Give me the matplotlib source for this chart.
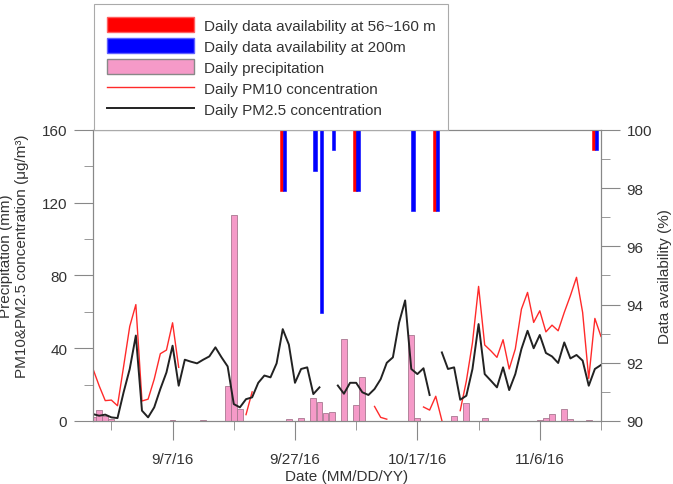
import numpy as np
import pandas as pd
import matplotlib
matplotlib.use("Agg")
import matplotlib.pyplot as plt
import matplotlib.dates as mdates
from matplotlib.ticker import FixedLocator, FuncFormatter, MultipleLocator
from matplotlib.patches import Patch
from matplotlib.lines import Line2D

plt.rcParams['font.family'] = ['Liberation Sans', 'DejaVu Sans']
plt.rcParams['font.size'] = 11

nan = np.nan

# daily series, 8/25/16 .. 11/16/16
dates = pd.date_range('2016-08-25', '2016-11-16', freq='D')

precip = [2, 6, 3, 1, 0, 0, 0, 0, 0, 0, 0, 0, 0, 0.5,
          0, 0, 0, 0, 0.8, 0, 0, 0, 19.5, 113, 6.6, 0, 0, 0,
          0, 0, 0, 0, 1, 0, 1.5, 0, 12.5, 10.5, 4.5, 5, 0, 45,
          0, 9, 24, 0, 0, 0, 0, 0, 0, 0, 47.5, 1.5, 0, 0,
          0, 0, 0, 2.5, 0, 10, 0, 0, 1.5, 0, 0, 0, 0, 0,
          0, 0, 0, 0.8, 1.5, 3.8, 0, 6.6, 1.1, 0, 0, 0.5, 0, 0]

pm10 = [28.6, 19.4, 11.2, 11.5, 8.4, 30, 52, 64, 11, 12, 23, 37, 39, 54,
        29.5, nan, nan, nan, nan, nan, nan, nan, nan, nan, nan, 3.5, 16, nan,
        nan, nan, nan, nan, nan, nan, nan, nan, nan, nan, nan, nan, nan, nan,
        nan, nan, nan, nan, 8, 2, 1, nan, nan, nan, nan, nan, 7.7, 6,
        13.6, 0.3, nan, nan, 5.7, 22, 43, 74, 41.8, 38.6, 35, 44.7, 28.6, 39.6,
        61.5, 70.7, 54.2, 60.6, 49, 52.7, 49.6, 59.7, 68.9, 79, 59.7, 23.4, 56.4, 46.5]

pm25 = [3.8, 2.9, 3.5, 2, 1.6, 15.8, 28.6, 47, 5.7, 2, 7.5, 17.6, 26.7, 41.4,
        19.4, 33.7, 32.6, 31.7, 33.7, 35.5, 40.5, 35, 30, 9.3, 7.5, 12, 13, 21,
        25, 24, 31.7, 50.5, 42, 21, 28.6, 29.5, 14.8, 18.5, nan, nan, 19.5, 15,
        21, 21, 15.8, 14.3, 17.6, 23, 32, 35, 54, 66.3, 28.6, 25.8, 29, 14.3,
        nan, 37.7, 28.6, 29.5, 11.7, 13.9, 28.6, 53.3, 25.8, 22.2, 18.5, 29.5, 17, 25.8,
        39.6, 49.6, 40, 47.3, 37.4, 35.5, 31.9, 43.2, 34.4, 36.3, 33.2, 19.4, 28.6, 30.8]

# data availability (%)
avail_low = [100, 100, 100, 100, 100, 100, 100, 100, 100, 100, 100, 100, 100, 100,
             100, 100, 100, 100, 100, 100, 100, 100, 100, 100, 100, 100, 100, 100,
             100, 100, 100, 97.9, 100, 100, 100, 100, 100, 100, 100, 100, 100, 100,
             100, 97.9, 100, 100, 100, 100, 100, 100, 100, 100, 100, 100, 100, 100,
             97.2, 100, 100, 100, 100, 100, 100, 100, 100, 100, 100, 100, 100, 100,
             100, 100, 100, 100, 100, 100, 100, 100, 100, 100, 100, 100, 99.3, 100]

avail_200 = [100, 100, 100, 100, 100, 100, 100, 100, 100, 100, 100, 100, 100, 100,
             100, 100, 100, 100, 100, 100, 100, 100, 100, 100, 100, 100, 100, 100,
             100, 100, 100, 97.9, 100, 100, 100, 100, 98.6, 93.7, 100, 99.3, 100, 100,
             100, 97.9, 100, 100, 100, 100, 100, 100, 100, 100, 97.2, 100, 100, 100,
             97.2, 100, 100, 100, 100, 100, 100, 100, 100, 100, 100, 100, 100, 100,
             100, 100, 100, 100, 100, 100, 100, 100, 100, 100, 100, 100, 99.3, 100]

major_dates = pd.to_datetime(['2016-09-07', '2016-09-27', '2016-10-17', '2016-11-06'])
minor_dates = pd.to_datetime(['2016-08-28', '2016-09-17', '2016-10-07', '2016-10-27', '2016-11-16'])

pink = '#F59AC8'
gray = '#888888'
txt = '#333333'

fig = plt.figure(figsize=(6.73, 4.85), dpi=100)
ax1 = fig.add_axes([0.1382, 0.1299, 0.7548, 0.6])

ax1.bar(dates, precip, width=0.95, color=pink, edgecolor='#A87890', linewidth=0.6, zorder=1)
ax1.plot(dates, pm10, color='#FF2A2A', linewidth=1.0, zorder=3)
ax1.plot(dates, pm25, color='#222222', linewidth=1.4, zorder=4)
ax1.set_ylim(0, 160)
ax1.set_xlim(dates[0], dates[-1])

ax2 = ax1.twinx()
low = np.array(avail_low)
high = np.array(avail_200)
ax2.bar(dates - pd.Timedelta(hours=5), 100 - low, bottom=low, width=0.55,
        color='#FF0000', edgecolor='#FF0000', linewidth=0.4)
ax2.bar(dates + pd.Timedelta(hours=7), 100 - high, bottom=high, width=0.55,
        color='#0000FF', edgecolor='#0000FF', linewidth=0.4)
ax2.set_ylim(90, 100)

ax1.set_yticks([0, 40, 80, 120, 160])
ax1.yaxis.set_minor_locator(MultipleLocator(20))
ax2.set_yticks([90, 92, 94, 96, 98, 100])
ax2.yaxis.set_minor_locator(MultipleLocator(1))

ax1.xaxis.set_major_locator(FixedLocator(mdates.date2num(major_dates)))
ax1.xaxis.set_minor_locator(FixedLocator(mdates.date2num(minor_dates)))
ax1.xaxis.set_major_formatter(FuncFormatter(
    lambda v, p: f"{mdates.num2date(v).month}/{mdates.num2date(v).day}/16"))

for ax in (ax1, ax2):
    for s in ax.spines.values():
        s.set_color(gray)
    ax.tick_params(which='major', direction='out', length=13.5, color=gray,
                   labelcolor=txt, labelsize=11, pad=5)
    ax.tick_params(which='minor', direction='out', length=6.5, color=gray)
ax1.tick_params(axis='x', which='major', pad=9)

fig.text(0.021, 0.472, 'Precipitation (mm)\nPM10&PM2.5 concentration (μg/m³)',
         rotation=90, ha='center', va='center', multialignment='center',
         color=txt, fontsize=11)
fig.text(0.988, 0.43, 'Data availability (%)', rotation=90, ha='center',
         va='center', color=txt, fontsize=11)
fig.text(0.515, 0.017, 'Date (MM/DD/YY)', ha='center', va='center',
         color=txt, fontsize=11)

handles = [Patch(facecolor='#FF0000', edgecolor='#FF6060'),
           Patch(facecolor='#0000FF', edgecolor='#6060FF'),
           Patch(facecolor=pink, edgecolor=gray),
           Line2D([], [], color='#FF2A2A', linewidth=1.0),
           Line2D([], [], color='#222222', linewidth=1.4)]
labels = ['Daily data availability at 56~160 m',
          'Daily data availability at 200m',
          'Daily precipitation',
          'Daily PM10 concentration',
          'Daily PM2.5 concentration']
leg = fig.legend(handles, labels, loc='upper left', bbox_to_anchor=(0.139, 0.99),
                 bbox_transform=fig.transFigure, borderaxespad=0, fancybox=False,
                 edgecolor='#AAAAAA', framealpha=1, handlelength=5.7, handleheight=1.15,
                 labelspacing=0.35, handletextpad=0.65, borderpad=0.85, fontsize=11)
leg.get_frame().set_linewidth(0.8)
for t in leg.get_texts():
    t.set_color(txt)

fig.savefig('out.png', dpi=100)
